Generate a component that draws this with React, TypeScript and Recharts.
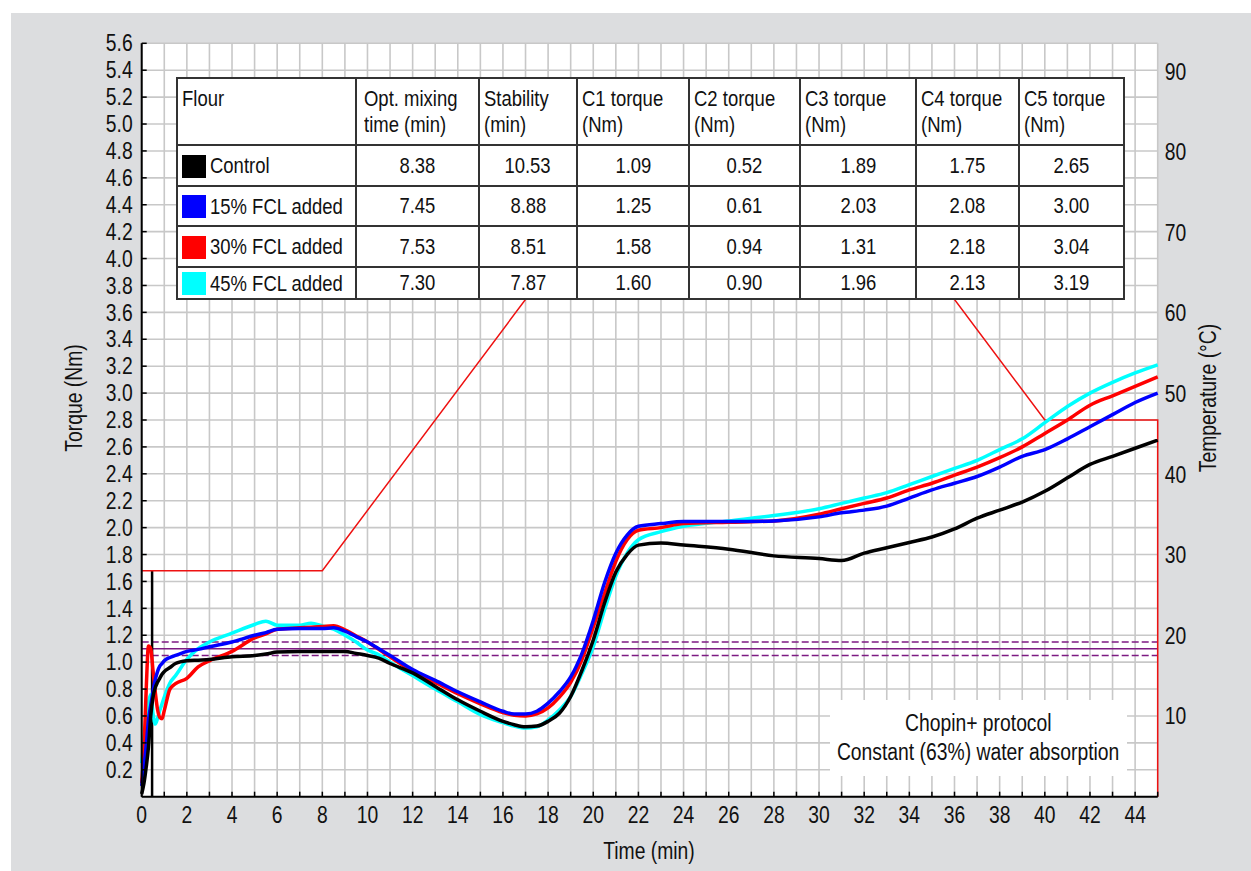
import { CartesianGrid, Line, LineChart, ReferenceLine, XAxis, YAxis } from 'recharts'
import type { ReactNode } from 'react'

const FONT = "'Liberation Sans', Arial, sans-serif"
// the source figure uses a condensed face; squeeze the regular one to match
const SQUEEZE = 0.84

// mixing time (min) shared by the four torque curves
const minutes = [
  0, 0.1, 0.2, 0.3, 0.4, 0.5, 0.6, 0.7, 0.8, 0.9, 1, 1.25, 1.5, 2, 2.5, 3, 4, 5, 5.5, 6, 7, 7.5, 8,
  8.5, 9, 9.5, 10, 10.5, 11, 12, 13, 14, 15, 16, 16.5, 17, 17.5, 18, 18.5, 19, 19.5, 20, 20.5, 21,
  21.5, 22, 23, 24, 26, 28, 30, 31, 32, 33, 34, 35, 36, 37, 38, 39, 40, 41, 42, 43, 44, 45,
]
const control = [
  0.02, 0.1, 0.22, 0.37, 0.6, 0.74, 0.81, 0.85, 0.88, 0.91, 0.93, 0.96, 0.99, 1.01, 1.015, 1.02,
  1.04, 1.05, 1.06, 1.075, 1.08, 1.08, 1.08, 1.08, 1.08, 1.065, 1.05, 1.03, 0.99, 0.92, 0.82, 0.72,
  0.635, 0.56, 0.535, 0.52, 0.525, 0.56, 0.62, 0.745, 0.94, 1.165, 1.44, 1.67, 1.8, 1.87, 1.885,
  1.87, 1.84, 1.79, 1.77, 1.755, 1.81, 1.85, 1.89, 1.93, 1.99, 2.07, 2.13, 2.19, 2.27, 2.37, 2.47,
  2.53, 2.59, 2.65,
]
const fcl15 = [
  0.08, 0.22, 0.38, 0.57, 0.68, 0.78, 0.87, 0.93, 0.97, 0.99, 1.01, 1.035, 1.05, 1.08, 1.095, 1.115,
  1.15, 1.2, 1.22, 1.245, 1.25, 1.25, 1.25, 1.255, 1.23, 1.19, 1.15, 1.1, 1.05, 0.945, 0.865, 0.78,
  0.705, 0.635, 0.615, 0.615, 0.635, 0.695, 0.78, 0.89, 1.066, 1.31, 1.59, 1.81, 1.945, 2.01, 2.03,
  2.045, 2.045, 2.05, 2.08, 2.11, 2.13, 2.16, 2.22, 2.28, 2.33, 2.38, 2.45, 2.53, 2.58, 2.66, 2.75,
  2.84, 2.93, 3.0,
]
const fcl30 = [
  0.1, 0.35, 0.8, 1.12, 1.1, 0.94, 0.78, 0.65, 0.59, 0.58, 0.64, 0.8, 0.84, 0.88, 0.965, 1.01, 1.08,
  1.18, 1.21, 1.245, 1.255, 1.26, 1.265, 1.27, 1.24, 1.195, 1.15, 1.095, 1.04, 0.93, 0.85, 0.765,
  0.69, 0.625, 0.605, 0.6, 0.615, 0.66, 0.74, 0.85, 1.02, 1.26, 1.51, 1.75, 1.91, 1.98, 2.0, 2.03,
  2.04, 2.05, 2.1, 2.14, 2.18, 2.22, 2.28, 2.33, 2.39, 2.45, 2.52, 2.6, 2.7, 2.8, 2.91, 2.98, 3.05,
  3.12,
]
const fcl45 = [
  0.25, 0.42, 0.56, 0.7, 0.76, 0.62, 0.54, 0.58, 0.64, 0.69, 0.74, 0.845, 0.9, 1.02, 1.1, 1.15,
  1.215, 1.28, 1.305, 1.275, 1.275, 1.29, 1.27, 1.245, 1.2, 1.15, 1.09, 1.055, 1.0, 0.9, 0.8, 0.705,
  0.61, 0.55, 0.525, 0.51, 0.52, 0.57, 0.645, 0.745, 0.917, 1.115, 1.39, 1.64, 1.81, 1.91, 1.97,
  2.01, 2.05, 2.09, 2.14, 2.18, 2.22, 2.26, 2.32, 2.38, 2.44, 2.5, 2.58, 2.66, 2.78, 2.9, 3.0, 3.08,
  3.15, 3.21,
]

// Chopin+ temperature profile
const tempMinutes = [0, 8, 23, 30, 40, 45, 45]
const tempValues = [30, 30, 90, 90, 50, 50, 0]

const timeTicks = [
  0, 1, 2, 3, 4, 5, 6, 7, 8, 9, 10, 11, 12, 13, 14, 15, 16, 17, 18, 19, 20, 21, 22, 23, 24, 25, 26,
  27, 28, 29, 30, 31, 32, 33, 34, 35, 36, 37, 38, 39, 40, 41, 42, 43, 44, 45,
]
const torqueTicks = [
  0.2, 0.4, 0.6, 0.8, 1.0, 1.2, 1.4, 1.6, 1.8, 2.0, 2.2, 2.4, 2.6, 2.8, 3.0, 3.2, 3.4, 3.6, 3.8,
  4.0, 4.2, 4.4, 4.6, 4.8, 5.0, 5.2, 5.4, 5.6,
]
const tempTicks = [10, 20, 30, 40, 50, 60, 70, 80, 90]

const flours = ['Control', '15% FCL added', '30% FCL added', '45% FCL added']
const flourColors = ['#000000', '#0000ff', '#ff0000', '#00ffff']
const headers = [
  ['Flour', ''],
  ['Opt. mixing', 'time (min)'],
  ['Stability', '(min)'],
  ['C1 torque', '(Nm)'],
  ['C2 torque', '(Nm)'],
  ['C3 torque', '(Nm)'],
  ['C4 torque', '(Nm)'],
  ['C5 torque', '(Nm)'],
]
const optMixing = ['8.38', '7.45', '7.53', '7.30']
const stability = ['10.53', '8.88', '8.51', '7.87']
const c1 = ['1.09', '1.25', '1.58', '1.60']
const c2 = ['0.52', '0.61', '0.94', '0.90']
const c3 = ['1.89', '2.03', '1.31', '1.96']
const c4 = ['1.75', '2.08', '2.18', '2.13']
const c5 = ['2.65', '3.00', '3.04', '3.19']

const colWidths = [179, 123, 98, 112, 111, 116, 103, 105]
const rowHeights = [41, 40, 41, 32]

const rows = minutes.map((t, i) => ({
  t,
  control: control[i],
  fcl15: fcl15[i],
  fcl30: fcl30[i],
  fcl45: fcl45[i],
}))
const tempData = tempMinutes.map((t, i) => ({ t, temp: tempValues[i] }))

const cellBorder = '2px solid #333'

function Narrow({ children, origin = 'center' }: { children: ReactNode; origin?: string }) {
  return (
    <span
      style={{
        display: 'inline-block',
        transform: `scaleX(${SQUEEZE})`,
        transformOrigin: `${origin} center`,
        whiteSpace: 'nowrap',
      }}
    >
      {children}
    </span>
  )
}

function AxisTick(props: any) {
  const { x, y, payload, textAnchor, dy, format } = props
  const label = format(payload.value)
  if (!label) return <g />
  return (
    <text
      transform={`translate(${x},${y}) scale(${SQUEEZE},1)`}
      textAnchor={textAnchor}
      dy={dy}
      fill="#111"
      fontSize={23}
      fontFamily={FONT}
    >
      {label}
    </text>
  )
}

const fmtTime = (v: number) => (v % 2 === 0 && v < 45 ? String(v) : '')
const fmtTorque = (v: number) => v.toFixed(1)
const fmtTemp = (v: number) => String(v)

function ResultsTable() {
  const cols = [optMixing, stability, c1, c2, c3, c4, c5]
  return (
    <table
      style={{
        position: 'absolute',
        left: 176,
        top: 77,
        width: 947,
        borderCollapse: 'collapse',
        tableLayout: 'fixed',
        background: '#fff',
        fontFamily: FONT,
        fontSize: 22,
        color: '#111',
      }}
    >
      <colgroup>
        {colWidths.map((w, i) => (
          <col key={i} style={{ width: w }} />
        ))}
      </colgroup>
      <tbody>
        <tr style={{ height: 67 }}>
          {headers.map((h, i) => (
            <td
              key={i}
              style={{
                border: cellBorder,
                verticalAlign: 'top',
                padding: i === 1 ? '7px 0 0 7px' : '7px 0 0 4px',
                lineHeight: '26px',
                whiteSpace: 'nowrap',
                overflow: 'visible',
              }}
            >
              <Narrow origin="left">{h[0]}</Narrow>
              <br />
              <Narrow origin="left">{h[1]}</Narrow>
            </td>
          ))}
        </tr>
        {flours.map((f, r) => (
          <tr key={f} style={{ height: rowHeights[r] }}>
            <td style={{ border: cellBorder, padding: '0 0 0 4px', whiteSpace: 'nowrap' }}>
              <span
                style={{
                  display: 'inline-block',
                  width: 24,
                  height: 23,
                  background: flourColors[r],
                  verticalAlign: 'middle',
                  marginRight: 4,
                }}
              />
              <span style={{ verticalAlign: 'middle', display: 'inline-block' }}>
                <Narrow origin="left">{f}</Narrow>
              </span>
            </td>
            {cols.map((c, j) => (
              <td key={j} style={{ border: cellBorder, textAlign: 'center', padding: 0 }}>
                <Narrow>{c[r]}</Narrow>
              </td>
            ))}
          </tr>
        ))}
      </tbody>
    </table>
  )
}

const titleStyle = {
  position: 'absolute' as const,
  fontFamily: FONT,
  fontSize: 23,
  color: '#111',
  whiteSpace: 'nowrap' as const,
}

const centeredLine = { display: 'flex', justifyContent: 'center', width: '100%' }

export default function App() {
  return (
    <div style={{ position: 'absolute', left: 0, top: 0, width: 1251, height: 871, background: '#fff' }}>
      <div style={{ position: 'absolute', left: 11, top: 13, width: 1240, height: 858, background: '#dcdddf' }} />
      <div style={{ position: 'absolute', left: 141.7, top: 43.3, width: 1016, height: 753.4, background: '#fff' }} />
      <div style={{ position: 'absolute', left: 0, top: 0 }}>
        <LineChart
          width={1251}
          height={871}
          data={rows}
          margin={{ top: 43.3, right: 33.3, bottom: 44.3, left: 81.7 }}
        >
          <CartesianGrid stroke="#c8c8c8" strokeWidth={1.6} />
          <XAxis
            type="number"
            dataKey="t"
            domain={[0, 45]}
            ticks={timeTicks}
            interval={0}
            height={30}
            tick={(p: any) => <AxisTick {...p} dy="0.71em" format={fmtTime} />}
            axisLine={{ stroke: '#000', strokeWidth: 2 }}
            tickLine={{ stroke: '#000', strokeWidth: 1.5 }}
            tickSize={-5}
            tickMargin={15}
          />
          <YAxis
            type="number"
            domain={[0, 5.6]}
            ticks={torqueTicks}
            interval={0}
            width={60}
            tick={(p: any) => <AxisTick {...p} dy="0.355em" format={fmtTorque} />}
            axisLine={{ stroke: '#000', strokeWidth: 2 }}
            tickLine={{ stroke: '#000', strokeWidth: 1.5 }}
            tickSize={-5}
            tickMargin={14}
          />
          <YAxis
            yAxisId="right"
            orientation="right"
            type="number"
            domain={[0, 93.5]}
            allowDataOverflow
            ticks={tempTicks}
            interval={0}
            width={60}
            tick={(p: any) => <AxisTick {...p} dy="0.355em" format={fmtTemp} />}
            axisLine={false}
            tickLine={false}
            tickSize={0}
            tickMargin={7}
          />
          <YAxis yAxisId="temp" type="number" domain={[0, 100]} hide />
          <ReferenceLine y={1.15} stroke="#7d1a82" strokeWidth={1.5} strokeDasharray="7 3" />
          <ReferenceLine y={1.1} stroke="#7d1a82" strokeWidth={1.5} />
          <ReferenceLine y={1.05} stroke="#7d1a82" strokeWidth={1.5} strokeDasharray="7 3" />
          <ReferenceLine
            segment={[
              { x: 0.46, y: 0 },
              { x: 0.46, y: 1.68 },
            ]}
            stroke="#000"
            strokeWidth={2.5}
          />
          <Line
            yAxisId="temp"
            data={tempData}
            dataKey="temp"
            type="linear"
            stroke="#ee1111"
            strokeWidth={1.5}
            dot={false}
            activeDot={false}
            isAnimationActive={false}
          />
          <Line dataKey="fcl45" type="monotone" stroke="#00ffff" strokeWidth={3.5} dot={false} activeDot={false} isAnimationActive={false} />
          <Line dataKey="fcl30" type="monotone" stroke="#ff0000" strokeWidth={3.5} dot={false} activeDot={false} isAnimationActive={false} />
          <Line dataKey="fcl15" type="monotone" stroke="#0000ff" strokeWidth={3.5} dot={false} activeDot={false} isAnimationActive={false} />
          <Line dataKey="control" type="monotone" stroke="#000000" strokeWidth={3.5} dot={false} activeDot={false} isAnimationActive={false} />
        </LineChart>
      </div>
      <ResultsTable />
      <div
        style={{
          ...titleStyle,
          left: 830,
          top: 700,
          width: 297,
          height: 76,
          background: '#fff',
          lineHeight: '29px',
          paddingTop: 9,
          boxSizing: 'border-box',
        }}
      >
        <div style={centeredLine}>
          <Narrow>Chopin+ protocol</Narrow>
        </div>
        <div style={centeredLine}>
          <Narrow>Constant (63%) water absorption</Narrow>
        </div>
      </div>
      <div style={{ ...titleStyle, left: 649, top: 851, transform: `translate(-50%, -50%) scaleX(${SQUEEZE})` }}>
        Time (min)
      </div>
      <div
        style={{
          ...titleStyle,
          left: 74,
          top: 398,
          transform: `translate(-50%, -50%) rotate(-90deg) scaleX(${SQUEEZE})`,
        }}
      >
        Torque (Nm)
      </div>
      <div
        style={{
          ...titleStyle,
          left: 1208,
          top: 398,
          transform: `translate(-50%, -50%) rotate(-90deg) scaleX(${SQUEEZE})`,
        }}
      >
        Temperature (°C)
      </div>
    </div>
  )
}
